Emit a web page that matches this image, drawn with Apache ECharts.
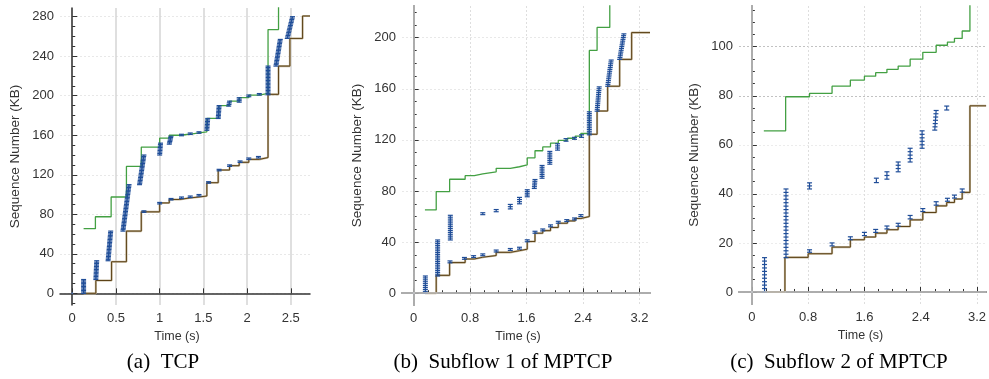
<!DOCTYPE html>
<html>
<head>
<meta charset="utf-8">
<script src="https://cdn.jsdelivr.net/npm/echarts@6/dist/echarts.min.js"></script>
<style>
  html, body { margin: 0; padding: 0; background: #fff; }
  #chart { width: 989px; height: 379px; }
</style>
</head>
<body>
<div id="chart"></div>
<script>
// time in s, sequence number in KB
// step lines: [t, value from t on]
const tcpAck = [[0.13, 0], [0.27, 13], [0.45, 32], [0.62, 63], [0.79, 82.5], [1.0, 91.5], [1.11, 95], [1.23, 96.5],
  [1.34, 97.5], [1.45, 98.5], [1.54, 112], [1.67, 124.8], [1.8, 129.2], [1.91, 132.6], [2.02, 135.6], [2.14, 137.4],
  [2.24, 201.4], [2.36, 230], [2.49, 258], [2.635, 280.7], [2.72, 280.7]]
const tcpWin = [[0.13, 65.5], [0.265, 77.5], [0.445, 97.5], [0.62, 128.5], [0.79, 148], [1.0, 157], [1.11, 160],
  [1.23, 161], [1.34, 162.5], [1.45, 163.5], [1.54, 177], [1.675, 190], [1.8, 194.6], [1.91, 198], [2.02, 200.7],
  [2.14, 202.4], [2.24, 267], [2.36, 300]]
// segment bursts: [t start, t end, seq start, seq end]
const tcpSegs = [[0.13, 0.13, 0, 14], [0.27, 0.28, 14, 33], [0.41, 0.44, 33, 63], [0.58, 0.65, 63, 110],
  [0.77, 0.82, 110, 140], [1.0, 1.01, 140, 152], [1.11, 1.13, 151, 159], [1.25, 1.25, 159.5, 161],
  [1.35, 1.35, 160.8, 162.3], [1.45, 1.45, 162, 163.5], [1.54, 1.55, 165, 177], [1.67, 1.68, 177, 190],
  [1.79, 1.8, 189.5, 194.5], [1.91, 1.91, 193.5, 198], [2.02, 2.02, 199, 200.7], [2.14, 2.14, 200.7, 202.2],
  [2.24, 2.24, 201, 230], [2.33, 2.38, 230, 257], [2.46, 2.52, 258, 280]]
const tcpLone = [[0.82, 0.82, 82, 83.5], [1.0, 1.0, 90.5, 92], [1.13, 1.13, 94.5, 96], [1.25, 1.25, 96, 97.5],
  [1.35, 1.35, 97, 98.5], [1.45, 1.45, 98.5, 100], [1.56, 1.56, 111.5, 113], [1.68, 1.68, 124, 125.5],
  [1.8, 1.8, 128.5, 130], [1.92, 1.92, 132.5, 134], [2.02, 2.02, 135.5, 137], [2.13, 2.13, 137, 138.5]]

const sf1Ack = [[0.16, 0], [0.32, 14], [0.51, 24], [0.73, 26.8], [0.86, 28.2], [0.98, 29.5], [1.17, 32], [1.37, 33.3],
  [1.5, 34.5], [1.61, 40.5], [1.72, 47], [1.83, 49], [1.94, 51.5], [2.05, 54.8], [2.18, 56.6], [2.29, 58.5],
  [2.37, 60], [2.49, 124.4], [2.6, 142.6], [2.75, 162], [2.92, 183], [3.09, 204], [3.35, 204]]
const sf1Win = [[0.16, 65.2], [0.32, 79.5], [0.51, 89.2], [0.73, 92], [0.86, 93.5], [0.98, 95], [1.17, 97.8],
  [1.37, 99], [1.5, 100.5], [1.61, 106], [1.72, 111.5], [1.83, 114.5], [1.94, 117.5], [2.05, 119.7], [2.18, 121.3],
  [2.29, 123], [2.37, 125], [2.49, 190], [2.6, 208], [2.78, 240]]
const sf1Segs = [[0.166, 0.166, 0, 13.5], [0.34, 0.34, 13.5, 41.7], [0.52, 0.52, 41.7, 61], [0.98, 0.98, 61.5, 63],
  [1.17, 1.17, 63.8, 65.5], [1.37, 1.37, 66, 69.5], [1.5, 1.5, 70, 75], [1.61, 1.61, 75.5, 81], [1.71, 1.72, 82, 89],
  [1.82, 1.82, 90, 100], [1.93, 1.93, 101, 111], [2.04, 2.04, 112, 117], [2.16, 2.16, 119, 121],
  [2.28, 2.28, 120.5, 122], [2.38, 2.38, 122, 124], [2.49, 2.49, 124, 142], [2.6, 2.63, 142.5, 161.5],
  [2.75, 2.8, 162, 182.5], [2.92, 2.98, 183, 203]]
const sf1Lone = [[0.515, 0.515, 23.8, 25.3], [0.72, 0.72, 26.6, 28], [0.85, 0.85, 28, 29.4], [0.98, 0.98, 29.4, 30.8],
  [1.17, 1.17, 32.3, 33.8], [1.37, 1.37, 33.5, 35], [1.5, 1.5, 34.5, 36], [1.61, 1.61, 40.3, 41.8],
  [1.72, 1.72, 47, 48.5], [1.83, 1.83, 48.8, 50.3], [1.94, 1.94, 52, 53.5], [2.05, 2.05, 54.8, 56.3],
  [2.17, 2.17, 56.1, 57.6], [2.28, 2.28, 57.4, 58.9], [2.37, 2.37, 60, 61.5]]

const sf2Ack = [[0.17, 0], [0.47, 14.1], [0.8, 15.6], [1.14, 18.3], [1.4, 21.3], [1.6, 22.4], [1.76, 24], [1.92, 25.4],
  [2.08, 26.7], [2.25, 29.4], [2.43, 32.4], [2.62, 35.1], [2.77, 36.5], [2.88, 37.9], [2.99, 40.6], [3.1, 75.9],
  [3.33, 75.9]]
const sf2Win = [[0.17, 65.7], [0.48, 79.6], [0.82, 81], [1.14, 83.9], [1.4, 86.4], [1.6, 88], [1.76, 89.4],
  [1.92, 90.8], [2.08, 92.1], [2.25, 94.9], [2.43, 97.7], [2.62, 100.6], [2.78, 101.9], [2.88, 103.4],
  [2.99, 106.4], [3.1, 125]]
const sf2Segs = [[0.18, 0.18, 0, 14], [0.485, 0.485, 14, 42], [0.82, 0.82, 42, 44.5], [1.77, 1.77, 44.6, 46.4],
  [1.92, 1.92, 46, 49], [2.08, 2.08, 49, 53], [2.25, 2.25, 53, 58.6], [2.42, 2.42, 58.6, 65.7],
  [2.6, 2.62, 66, 74], [2.77, 2.77, 74.2, 75.8]]
const sf2Lone = [[0.82, 0.82, 16.2, 17.2], [1.14, 1.14, 18.8, 20], [1.4, 1.4, 21.3, 22.5], [1.6, 1.6, 23, 24.3],
  [1.76, 1.76, 24.3, 25.5], [1.92, 1.92, 25.7, 26.9], [2.08, 2.08, 26.8, 28], [2.25, 2.25, 29.8, 31.2],
  [2.43, 2.43, 32.8, 34], [2.62, 2.62, 35.4, 36.8], [2.78, 2.78, 37, 38.2], [2.88, 2.88, 38.3, 39.5],
  [2.99, 2.99, 40.7, 42]]

const synPoint = [[0, 0]]

const tcpTimeTicks = [0, 0.5, 1, 1.5, 2, 2.5]
const sfTimeTicks = [0, 0.8, 1.6, 2.4, 3.2]
const sfTimeMinor = [0.2, 0.4, 0.6, 1.0, 1.2, 1.4, 1.8, 2.0, 2.2, 2.6, 2.8, 3.0]
const tcpSeqTicks = [0, 40, 80, 120, 160, 200, 240, 280]
const tcpSeqMinor = [-10, 10, 20, 30, 50, 60, 70, 90, 100, 110, 130, 140, 150, 170, 180, 190, 210, 220, 230, 250, 260, 270]
const sf1SeqTicks = [0, 40, 80, 120, 160, 200]
const sf1SeqMinor = [10, 20, 30, 50, 60, 70, 90, 100, 110, 130, 140, 150, 170, 180, 190, 210, 220]
const sf2SeqTicks = [0, 20, 40, 60, 80, 100]
const sf2SeqMinor = [5, 10, 15, 25, 30, 35, 45, 50, 55, 65, 70, 75, 85, 90, 95, 105, 110, 115]

const captions = ['(a)\u2002TCP', '(b)\u2002Subflow 1 of MPTCP', '(c)\u2002Subflow 2 of MPTCP']

const BLUE = '#1f4d98'
const GREEN = '#43a043'
const BROWN = '#5c4216'
const TAN = '#c2b59b'
const FONT = 'Liberation Sans'
const MSS = 1.43

const panels = [
  { grid: { left: 60, top: 8, width: 250, height: 297 }, x: [-0.14, 2.72], y: [-11.8, 288.8],
    xt: tcpTimeTicks, xm: [], yt: tcpSeqTicks, ym: tcpSeqMinor,
    ack: tcpAck, win: tcpWin, segs: tcpSegs.concat(tcpLone), solidX: true, nameShift: 16, cap: 163 },
  { grid: { left: 402, top: 6, width: 248, height: 299 }, x: [-0.165, 3.35], y: [-9.2, 224.8],
    xt: sfTimeTicks, xm: sfTimeMinor, yt: sf1SeqTicks, ym: sf1SeqMinor,
    ack: sf1Ack, win: sf1Win, segs: sf1Segs.concat(sf1Lone), solidX: false, nameShift: 16, cap: 503 },
  { grid: { left: 739, top: 6, width: 249, height: 298 }, x: [-0.183, 3.33], y: [-4.9, 116.6],
    xt: sfTimeTicks, xm: sfTimeMinor, yt: sf2SeqTicks, ym: sf2SeqMinor,
    ack: sf2Ack, win: sf2Win, segs: sf2Segs.concat(sf2Lone), solidX: false, nameShift: 4, cap: 839,
    ySplitColors: ['#e4e4e4', '#ececec', '#ececec', '#ececec', '#c2c2c2', '#c2c2c2'] }
]

function renderSegs(params, api) {
  const p0 = api.coord([api.value(0), api.value(2)])
  const p1 = api.coord([api.value(1), api.value(3)])
  const n = Math.max(1, Math.round((api.value(3) - api.value(2)) / MSS))
  const style = { stroke: BLUE, lineWidth: 1.2 }
  const children = [{ type: 'line', shape: { x1: p0[0], y1: p0[1], x2: p1[0], y2: p1[1] }, style }]
  for (let i = 0; i <= n; i++) {
    const x = p0[0] + (p1[0] - p0[0]) * i / n
    const y = p0[1] + (p1[1] - p0[1]) * i / n
    children.push({ type: 'line', shape: { x1: x - 2.5, y1: y, x2: x + 2.5, y2: y }, style })
  }
  return { type: 'group', children }
}

const grid = [], xAxis = [], yAxis = [], series = [], graphic = []

panels.forEach((p, i) => {
  grid.push(p.grid)
  const xi = xAxis.length, yi = yAxis.length
  xAxis.push({
    type: 'value', gridIndex: i, min: p.x[0], max: p.x[1],
    name: 'Time (s)', nameLocation: 'middle', nameGap: 21,
    nameTextStyle: { fontFamily: FONT, fontSize: 12.5, color: '#333', padding: [0, p.nameShift, 0, 0] },
    axisLine: { lineStyle: { color: '#333', width: 1.5 } },
    axisTick: { inside: true, length: 5, customValues: p.xt, lineStyle: { color: '#333' } },
    axisLabel: { customValues: p.xt, margin: 7, fontFamily: FONT, fontSize: 13, color: '#333' },
    splitLine: { show: true, lineStyle: p.solidX ? { color: '#d4d4d4', width: 1.5 } : { color: '#dedede', type: [2, 2] } }
  })
  xAxis.push({
    type: 'value', gridIndex: i, min: p.x[0], max: p.x[1], position: 'bottom',
    axisLine: { show: false }, axisLabel: { show: false }, splitLine: { show: false },
    axisTick: { show: p.xm.length > 0, inside: true, length: 3, customValues: p.xm, lineStyle: { color: '#333' } }
  })
  yAxis.push({
    type: 'value', gridIndex: i, min: p.y[0], max: p.y[1],
    name: 'Sequence Number (KB)', nameLocation: 'middle', nameGap: 38,
    nameTextStyle: { fontFamily: FONT, fontSize: 13.5, color: '#333' },
    axisLine: { show: true, lineStyle: { color: '#333', width: 1.5 } },
    axisTick: { show: true, inside: true, length: 5, customValues: p.yt, lineStyle: { color: '#333' } },
    axisLabel: { customValues: p.yt, margin: 6, fontFamily: FONT, fontSize: 13, color: '#333' },
    splitLine: { show: true, lineStyle: { color: p.ySplitColors || '#e8e8e8', type: [2, 2] } }
  })
  yAxis.push({
    type: 'value', gridIndex: i, min: p.y[0], max: p.y[1], position: 'left',
    axisLine: { show: false }, axisLabel: { show: false }, splitLine: { show: false },
    axisTick: { show: true, inside: true, length: 3, customValues: p.ym, lineStyle: { color: '#333' } }
  })

  const zeroLines = []
  if (!p.solidX) zeroLines.push({ xAxis: 0 }, { yAxis: 0 })
  series.push({
    type: 'line', xAxisIndex: xi, yAxisIndex: yi, data: p.ack, step: 'end', showSymbol: false,
    lineStyle: { color: TAN, width: 2.1 }, silent: true, z: 2,
    markLine: { silent: true, symbol: 'none', label: { show: false },
      lineStyle: { color: '#c6c6c6', type: 'solid', width: 1.5 }, data: zeroLines }
  })
  series.push({
    type: 'line', xAxisIndex: xi, yAxisIndex: yi, data: p.ack, step: 'end', showSymbol: false,
    lineStyle: { color: BROWN, width: 1 }, z: 3
  })
  series.push({
    type: 'line', xAxisIndex: xi, yAxisIndex: yi, data: p.win, step: 'end', showSymbol: false,
    lineStyle: { color: GREEN, width: 1.3 }, z: 3
  })
  series.push({
    type: 'custom', xAxisIndex: xi, yAxisIndex: yi, data: p.segs, renderItem: renderSegs,
    encode: { x: [0, 1], y: [2, 3] }, z: 4
  })
  series.push({
    type: 'scatter', xAxisIndex: xi, yAxisIndex: yi, data: synPoint, symbolSize: 2,
    itemStyle: { color: '#5a7fc0' }, z: 4
  })

  graphic.push({
    type: 'text', x: p.cap, y: 362,
    style: { text: captions[i], font: '21px "Liberation Serif"', fill: '#000', textAlign: 'center', textVerticalAlign: 'middle' }
  })
})

const chart = echarts.init(document.getElementById('chart'), null, { renderer: 'canvas' })
chart.setOption({ animation: false, grid, xAxis, yAxis, series, graphic })
</script>
</body>
</html>
